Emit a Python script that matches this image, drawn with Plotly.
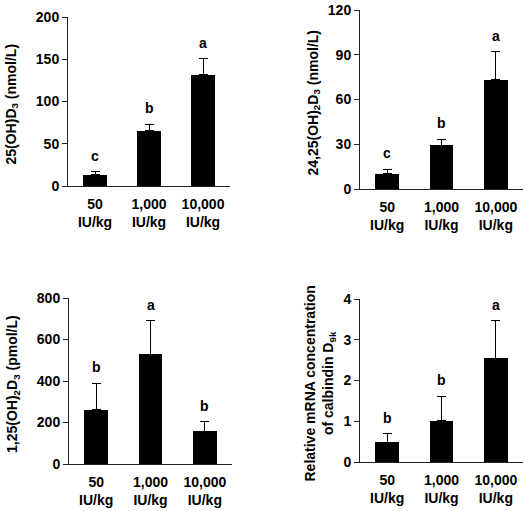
import plotly.graph_objects as go

W, H = 529, 511

categories = ["50<br>IU/kg", "1,000<br>IU/kg", "10,000<br>IU/kg"]
cat_pos = [0, 1, 2]

# Panel A: 25(OH)D3 (nmol/L)
p1_mean = [13.4, 65.4, 131.5]
p1_top = [16.9, 72.8, 150.8]
p1_letters = ["c", "b", "a"]

# Panel B: 24,25(OH)2D3 (nmol/L)
p2_mean = [10.3, 29.3, 73.1]
p2_top = [13.4, 33.3, 92.1]
p2_letters = ["c", "b", "a"]

# Panel C: 1,25(OH)2D3 (pmol/L)
p3_mean = [261, 528, 159]
p3_top = [389, 690, 204]
p3_letters = ["b", "a", "b"]

# Panel D: relative mRNA of calbindin D9k
p4_mean = [0.48, 1.01, 2.55]
p4_top = [0.69, 1.61, 3.47]
p4_letters = ["b", "b", "a"]

y_ranges = [200, 120, 800, 4]
y_dticks = [50, 30, 200, 1]
y_titles = [
    "25(OH)D<sub>3</sub> (nmol/L)",
    "24,25(OH)<sub>2</sub>D<sub>3</sub> (nmol/L)",
    "1,25(OH)<sub>2</sub>D<sub>3</sub> (pmol/L)",
    "Relative mRNA concentration<br>of calbindin D<sub>9k</sub>",
]

# pixel boxes: (left, right, top, bottom)
boxes = [(68, 230, 17, 186), (360, 523, 10, 189), (69, 232, 298, 464), (360, 523, 299, 462)]
title_x = [12, 314, 13, 319]

FONT = dict(family="Liberation Sans, Arial, sans-serif", size=14, color="black", weight="bold")
AX = "#222222"

fig = go.Figure()
panels = [(p1_mean, p1_top, p1_letters), (p2_mean, p2_top, p2_letters),
          (p3_mean, p3_top, p3_letters), (p4_mean, p4_top, p4_letters)]

annotations = []
for i, (mean, top, letters) in enumerate(panels):
    n = i + 1
    xa = "x" if n == 1 else f"x{n}"
    ya = "y" if n == 1 else f"y{n}"
    err = [t - m for t, m in zip(top, mean)]
    fig.add_trace(go.Bar(
        x=cat_pos, y=mean, xaxis=xa, yaxis=ya,
        width=0.43, marker=dict(color="black", line=dict(width=0)),
        error_y=dict(type="data", array=err, arrayminus=[0] * 3, symmetric=False,
                     color="black", thickness=1, width=4.5),
        showlegend=False, hoverinfo="skip",
    ))
    for c, t, L in zip(cat_pos, top, letters):
        annotations.append(dict(x=c, y=t, xref=xa, yref=ya, text=L, showarrow=False,
                                yshift=16, yanchor="middle", font=FONT))
    l, r, tp, b = boxes[i]
    xkey = "xaxis" if n == 1 else f"xaxis{n}"
    ykey = "yaxis" if n == 1 else f"yaxis{n}"
    fig.update_layout(**{
        xkey: dict(domain=[l / W, r / W], anchor=ya, range=[-0.5, 2.5],
                   tickmode="array", tickvals=cat_pos, ticktext=categories,
                   showline=True, linecolor=AX, linewidth=1, automargin=False,
                   ticks="", ticklabelstandoff=5, showgrid=False, zeroline=False,
                   tickfont=FONT),
        ykey: dict(domain=[1 - b / H, 1 - tp / H], anchor=xa, range=[0, y_ranges[i]],
                   dtick=y_dticks[i], tick0=0, showline=True, linecolor=AX, linewidth=1,
                   ticks="outside", ticklen=5, tickcolor=AX, showgrid=False, automargin=False,
                   zeroline=False, tickfont=FONT),
    })
    annotations.append(dict(x=title_x[i] / W, y=1 - ((tp + b) / 2 + 3) / H, xref="paper",
                            yref="paper", text=y_titles[i], textangle=-90, showarrow=False,
                            xanchor="center", yanchor="middle", font=FONT))

fig.update_layout(template="none", width=W, height=H, margin=dict(l=0, r=0, t=0, b=0, pad=0),
                  plot_bgcolor="white", paper_bgcolor="white", font=FONT,
                  annotations=annotations, bargap=0)

fig.write_html("out.html", config={"displayModeBar": False},
               post_script="document.body.style.margin='0';document.body.style.overflow='hidden';")
